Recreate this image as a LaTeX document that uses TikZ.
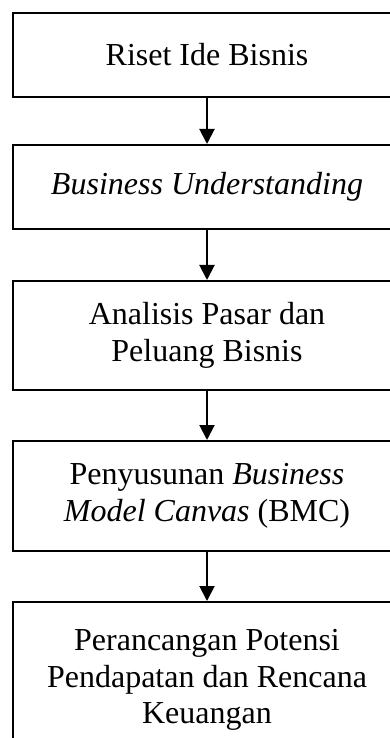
\documentclass[tikz,border=0pt]{standalone}
\usepackage{fontspec}
\setmainfont{Liberation Serif}
\usetikzlibrary{arrows.meta}
\tikzset{
  stage/.style={draw, line width=0.8pt, minimum width=155.2pt, inner sep=0pt, align=center, font=\fontsize{12.8}{14.7}\selectfont},
  flow/.style={line width=0.8pt, -{Triangle[width=6pt,length=6pt]}}
}
\begin{document}
\begin{tikzpicture}[x=0.4pt,y=-0.4pt]
\clip (0,0) rectangle (390,738);
\node[stage, minimum height=33.6pt] (riset) at (207,55) {Riset Ide Bisnis};
\node[stage, minimum height=33.6pt] (bu) at (207,187) {\textit{Business Understanding}};
\node[stage, minimum height=43.6pt] (pasar) at (207,335.5) {Analisis Pasar dan\\Peluang Bisnis};
\node[stage, minimum height=44pt] (bmc) at (207,496) {Penyusunan \textit{Business}\\\textit{Model Canvas} (BMC)};
\node[stage, minimum height=62.4pt] (uang) at (207,680) {Perancangan Potensi\\Pendapatan dan Rencana\\Keuangan};
% alur tahapan
\draw[flow] (riset) -- (bu);
\draw[flow] (bu) -- (pasar);
\draw[flow] (pasar) -- (bmc);
\draw[flow] (bmc) -- (uang);
\end{tikzpicture}
\end{document}
